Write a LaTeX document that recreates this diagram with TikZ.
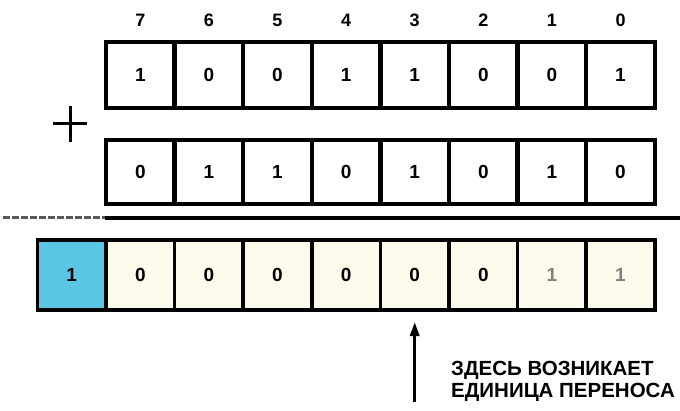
\documentclass[tikz,border=0pt]{standalone}
\usepackage{fontspec}
\setmainfont{Liberation Sans}
\usetikzlibrary{arrows.meta}
\definecolor{carryblue}{HTML}{5BC6E3}
\definecolor{sumcream}{HTML}{FCFAEA}
\tikzset{
  bitcell/.style={draw, line width=4.5pt, minimum width=68.6pt, minimum height=66pt,
    inner sep=0pt, outer sep=0pt, font=\fontsize{19}{19}\selectfont\bfseries},
  sumcell/.style={bitcell, line width=3.5pt, minimum height=70pt, fill=sumcream},
  bitno/.style={font=\fontsize{18}{18}\selectfont\bfseries},
}
\begin{document}
\begin{tikzpicture}[x=1pt,y=1pt]
  \useasboundingbox (0,0) rectangle (680,410);
  % Bit numbers
  \foreach \n [count=\i from 0] in {7,6,5,4,3,2,1,0}
    \node[bitno] (pos\n) at (140.3+68.6*\i,390) {\n};

  % First operand
  \foreach \b [count=\i from 0] in {1,0,0,1,1,0,0,1}
    \node[bitcell] (a\i) at (140.3+68.6*\i,335) {\b};

  % Second operand
  \foreach \b [count=\i from 0] in {0,1,1,0,1,0,1,0}
    \node[bitcell, minimum height=64pt] (b\i) at (140.3+68.6*\i,238) {\b};

  % Plus sign
  \coordinate (plus) at (70,286);
  \draw[line width=3pt] ([xshift=-17pt]plus) -- ([xshift=17pt]plus);
  \draw[line width=3pt] ([yshift=-18pt]plus) -- ([yshift=18pt]plus);

  % Rule under the operands
  \draw[black!65, line width=3pt, dash pattern=on 7pt off 2pt] (3,192) -- (105,192);
  \draw[line width=4pt] (105,192) -- (680,192);

  % Sum with carry out
  \node[sumcell, fill=carryblue] (s0) at (71.7,135) {1};
  \foreach \b/\c [count=\i from 1] in {0/black,0/black,0/black,0/black,0/black,0/black,1/gray,1/gray}
    \node[sumcell, text=\c] (s\i) at (71.7+68.6*\i,135) {\b};

  % Carry note
  \node[anchor=north west, align=left, inner sep=0pt,
    font=\fontsize{20.5}{22}\selectfont\bfseries] (note) at (451,49)
    {ЗДЕСЬ ВОЗНИКАЕТ\\ЕДИНИЦА ПЕРЕНОСА};
  \coordinate (tail) at (s5.south |- 0,8);
  \draw[-{Triangle[length=14pt,width=9pt]}, line width=3pt]
    (tail) -- ([yshift=-12pt]s5.south);
\end{tikzpicture}
\end{document}
